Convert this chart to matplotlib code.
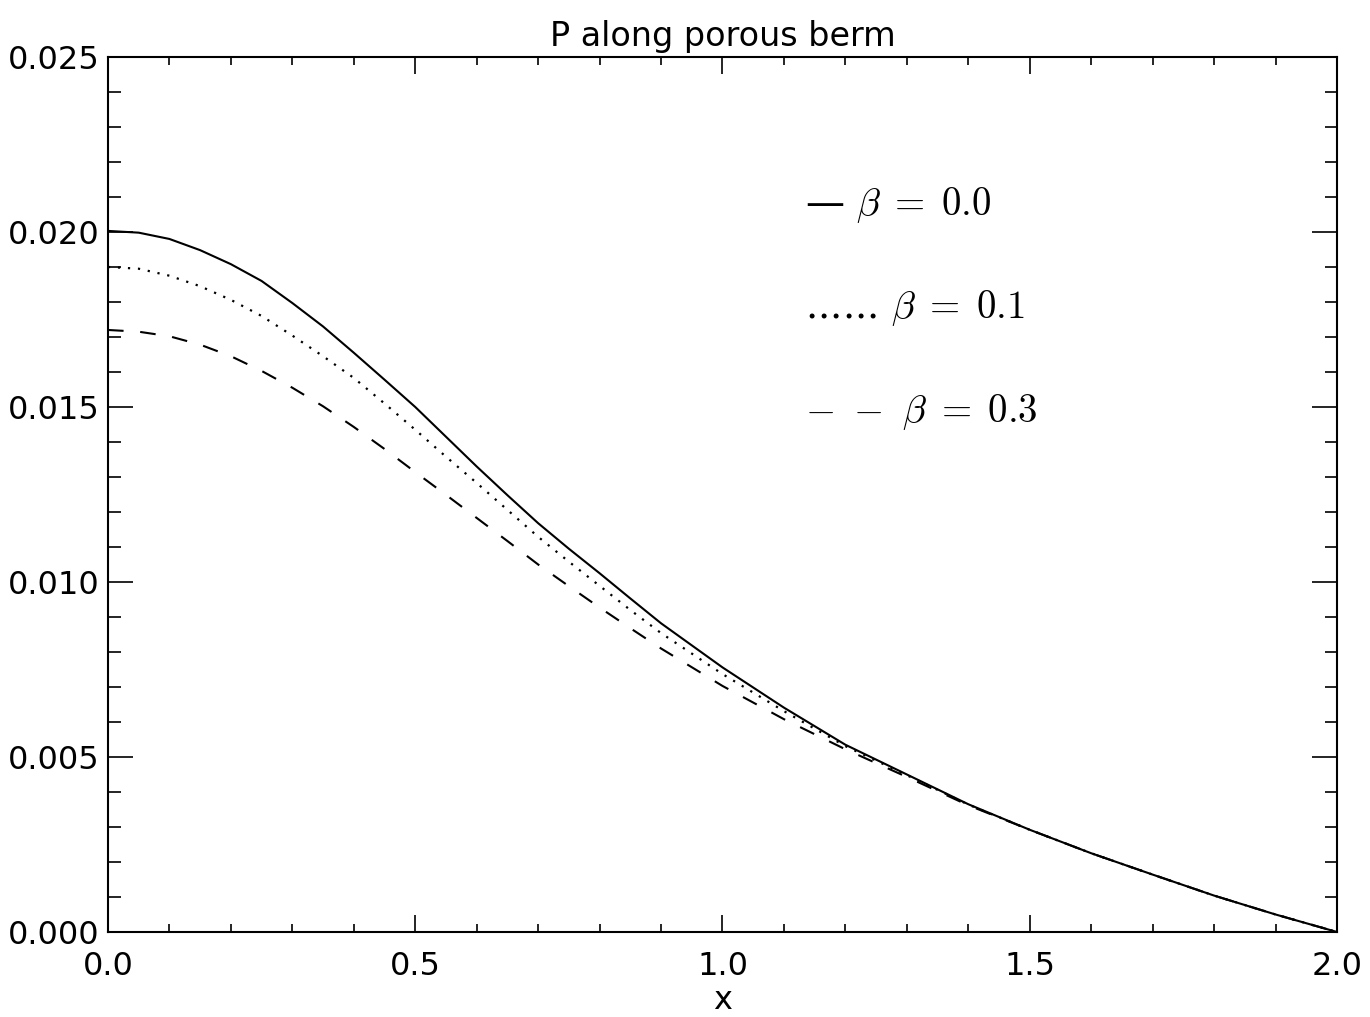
import matplotlib
matplotlib.use('Agg')
import matplotlib.pyplot as plt
from matplotlib.ticker import MultipleLocator, FormatStrFormatter

# values
x = [0.0, 0.05, 0.1, 0.15, 0.2, 0.25, 0.3, 0.35, 0.4, 0.45, 0.5,
     0.55, 0.6, 0.65, 0.7, 0.75, 0.8, 0.85, 0.9, 1.0,
     1.1, 1.2, 1.3, 1.4, 1.5, 1.6, 1.7, 1.8, 1.9, 2.0]
p_beta00 = [0.02003, 0.01998, 0.01980, 0.01948, 0.01908, 0.01860, 0.01797,
            0.01730, 0.01655, 0.01578, 0.01500, 0.01415, 0.01330, 0.01248,
            0.01168, 0.01095, 0.01025, 0.00953, 0.00882, 0.00756,
            0.00641, 0.00535, 0.00450, 0.00365, 0.00292, 0.00225, 0.00164,
            0.00104, 0.00050, 0.0]
p_beta01 = [0.01900, 0.01895, 0.01875, 0.01845, 0.01806, 0.01760, 0.01704,
            0.01645, 0.01583, 0.01510, 0.01435, 0.01358, 0.01283, 0.01206,
            0.01129, 0.01058, 0.00989, 0.00920, 0.00854, 0.00737,
            0.00631, 0.00531, 0.00448, 0.00364, 0.00292, 0.00225, 0.00164,
            0.00104, 0.00050, 0.0]
p_beta03 = [0.01720, 0.01715, 0.01702, 0.01678, 0.01645, 0.01603, 0.01555,
            0.01502, 0.01443, 0.01380, 0.01314, 0.01249, 0.01183, 0.01117,
            0.01050, 0.00988, 0.00927, 0.00868, 0.00810, 0.00703,
            0.00608, 0.00522, 0.00443, 0.00362, 0.00292, 0.00225, 0.00164,
            0.00104, 0.00050, 0.0]

legend_labels = [r'$\beta\;=\;0.0$', r'$\beta\;=\;0.1$', r'$\beta\;=\;0.3$']
legend_marks = ['\u2014', '......', r'$-\ -$']

plt.rcParams['mathtext.fontset'] = 'cm'
plt.rcParams['font.family'] = 'DejaVu Sans'


def main():
    fig = plt.figure(figsize=(13.7, 10.17), dpi=100)
    ax = fig.add_axes([0.0788, 0.0836, 0.8971, 0.8604])

    ax.plot(x, p_beta00, color='black', lw=1.5, linestyle='-')
    ax.plot(x, p_beta01, color='black', lw=1.6, linestyle=(0, (1, 3.5)))
    ax.plot(x, p_beta03, color='black', lw=1.5, linestyle=(0, (7.5, 8)))

    ax.set_xlim(0, 2)
    ax.set_ylim(0, 0.025)
    ax.xaxis.set_major_locator(MultipleLocator(0.5))
    ax.xaxis.set_minor_locator(MultipleLocator(0.1))
    ax.yaxis.set_major_locator(MultipleLocator(0.005))
    ax.yaxis.set_minor_locator(MultipleLocator(0.001))
    ax.xaxis.set_major_formatter(FormatStrFormatter('%.1f'))
    ax.yaxis.set_major_formatter(FormatStrFormatter('%.3f'))

    ax.tick_params(axis='both', which='both', direction='in',
                   top=True, right=True, width=1.2, colors='black')
    ax.tick_params(axis='x', which='major', length=12, pad=14, labelsize=23)
    ax.tick_params(axis='x', which='minor', length=6)
    ax.tick_params(axis='y', which='major', length=18, pad=6, labelsize=23)
    ax.tick_params(axis='y', which='minor', length=9)
    for spine in ax.spines.values():
        spine.set_linewidth(1.5)

    ax.set_title('P along porous berm', fontsize=24, pad=8)
    ax.set_xlabel('x', fontsize=23, labelpad=2)

    # hand-drawn style legend, as text
    ys = [0.8194, 0.7017, 0.5829]
    for mark, lab, yy in zip(legend_marks, legend_labels, ys):
        ax.text(0.567, yy, mark + ' ' + lab, transform=ax.transAxes,
                fontsize=28, family='serif', va='baseline', ha='left')

    fig.savefig('out.png', dpi=100)


if __name__ == '__main__':
    main()
